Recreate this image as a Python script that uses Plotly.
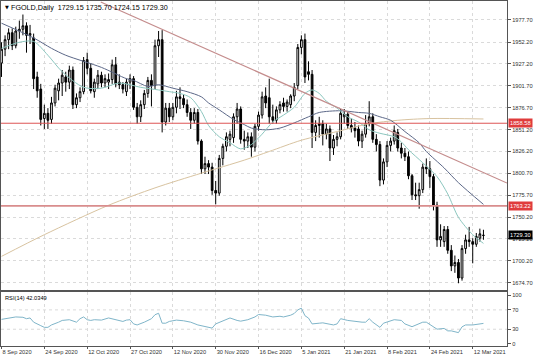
import plotly.graph_objects as go

# ---------------- data ----------------
tick_labels = ["8 Sep 2020", "24 Sep 2020", "12 Oct 2020", "27 Oct 2020", "12 Nov 2020",
               "30 Nov 2020", "16 Dec 2020", "5 Jan 2021", "21 Jan 2021", "8 Feb 2021",
               "24 Feb 2021", "12 Mar 2021"]
tick_bars = [0, 12, 24, 36, 48, 60, 72, 84, 96, 108, 120, 132]

opens = [1928, 1944, 1955, 1963, 1948, 1965, 1967, 1971, 1960, 1957,
         1912, 1898, 1864, 1870, 1863, 1882, 1896, 1905, 1912, 1906,
         1920, 1880, 1888, 1895, 1932, 1922, 1895, 1904, 1914, 1905,
         1906, 1909, 1926, 1906, 1903, 1895, 1906, 1910, 1877, 1866,
         1880, 1893, 1908, 1902, 1948, 1955, 1860, 1876, 1866, 1877,
         1889, 1887, 1880, 1871, 1862, 1871, 1838, 1806, 1812, 1808,
         1781, 1778, 1818, 1832, 1840, 1842, 1866, 1875, 1840, 1838,
         1843, 1831, 1855, 1868, 1890, 1888, 1866, 1862, 1874, 1882,
         1878, 1880, 1890, 1902, 1946, 1955, 1918, 1915, 1848, 1856,
         1858, 1846, 1852, 1830, 1840, 1843, 1866, 1869, 1856, 1853,
         1852, 1838, 1846, 1858, 1866, 1840, 1834, 1793, 1814, 1833,
         1838, 1848, 1830, 1824, 1820, 1798, 1776, 1775, 1782, 1808,
         1806, 1797, 1764, 1724, 1722, 1736, 1712, 1694, 1698, 1680,
         1714, 1724, 1722, 1719, 1726, 1729.15]
highs = [1952, 1960, 1968, 1968, 1970, 1977, 1984, 1975, 1972, 1962,
         1918, 1904, 1880, 1876, 1889, 1903, 1910, 1920, 1918, 1925,
         1924, 1893, 1900, 1935, 1940, 1928, 1910, 1920, 1918, 1915,
         1916, 1932, 1935, 1915, 1906, 1910, 1915, 1913, 1882, 1885,
         1897, 1912, 1915, 1955, 1965, 1966, 1882, 1882, 1882, 1896,
         1900, 1892, 1886, 1876, 1876, 1875, 1840, 1820, 1816, 1813,
         1792, 1822, 1835, 1848, 1850, 1870, 1882, 1878, 1850, 1848,
         1848, 1858, 1872, 1895, 1900, 1910, 1880, 1878, 1884, 1888,
         1886, 1892, 1905, 1950, 1960, 1962, 1930, 1920, 1862, 1866,
         1862, 1858, 1856, 1845, 1848, 1875, 1875, 1872, 1864, 1860,
         1856, 1850, 1868, 1884, 1870, 1846, 1838, 1818, 1838, 1842,
         1856, 1852, 1836, 1830, 1826, 1800, 1790, 1790, 1812, 1818,
         1815, 1800, 1768, 1742, 1740, 1740, 1718, 1706, 1702, 1718,
         1730, 1739, 1726, 1732, 1737, 1735.70]
lows = [1912, 1936, 1944, 1943, 1945, 1956, 1960, 1940, 1950, 1898,
        1888, 1856, 1852, 1852, 1858, 1878, 1885, 1890, 1895, 1898,
        1875, 1876, 1883, 1892, 1915, 1893, 1888, 1898, 1900, 1900,
        1898, 1904, 1900, 1898, 1893, 1890, 1898, 1874, 1858, 1860,
        1875, 1888, 1878, 1898, 1935, 1848, 1856, 1860, 1862, 1870,
        1875, 1876, 1866, 1852, 1858, 1834, 1800, 1800, 1800, 1776,
        1765, 1775, 1810, 1826, 1832, 1836, 1858, 1835, 1828, 1830,
        1820, 1826, 1850, 1864, 1876, 1858, 1858, 1858, 1870, 1872,
        1872, 1876, 1884, 1898, 1938, 1905, 1908, 1830, 1838, 1842,
        1833, 1840, 1815, 1822, 1832, 1840, 1858, 1852, 1848, 1842,
        1832, 1830, 1842, 1855, 1836, 1826, 1786, 1788, 1808, 1826,
        1834, 1826, 1818, 1815, 1794, 1770, 1770, 1760, 1778, 1800,
        1784, 1758, 1716, 1716, 1716, 1708, 1688, 1686, 1674, 1677,
        1708, 1716, 1697, 1716, 1722, 1724.15]
closes = [1944, 1955, 1963, 1948, 1965, 1967, 1971, 1960, 1962, 1910,
          1896, 1863, 1870, 1862, 1882, 1899, 1905, 1914, 1906, 1920,
          1880, 1888, 1895, 1931, 1922, 1896, 1906, 1914, 1905, 1910,
          1909, 1926, 1904, 1903, 1898, 1906, 1910, 1877, 1866, 1880,
          1893, 1908, 1902, 1948, 1955, 1860, 1876, 1866, 1877, 1889,
          1887, 1880, 1871, 1862, 1871, 1838, 1806, 1812, 1808, 1781,
          1778, 1818, 1832, 1843, 1846, 1866, 1875, 1840, 1838, 1843,
          1831, 1855, 1868, 1889, 1882, 1866, 1862, 1874, 1880, 1878,
          1883, 1890, 1900, 1946, 1955, 1912, 1915, 1848, 1856, 1858,
          1846, 1852, 1830, 1840, 1843, 1870, 1869, 1856, 1853, 1850,
          1838, 1846, 1858, 1866, 1840, 1834, 1793, 1814, 1833, 1838,
          1850, 1830, 1824, 1820, 1798, 1776, 1775, 1782, 1808, 1806,
          1797, 1764, 1724, 1728, 1736, 1712, 1694, 1698, 1680, 1714,
          1724, 1722, 1719, 1728, 1731, 1729.30]

# moving averages (bar index, price)
fast_bars = [0, 5, 9, 13, 17, 23, 28, 33, 39, 44, 47, 50, 53, 56, 58, 61, 64, 67, 70, 73,
             76, 79, 82, 85, 87, 89, 91, 94, 97, 100, 103, 106, 110, 112, 114, 118, 122,
             125, 128, 132, 135]
fast_vals = [1945, 1952, 1953, 1937, 1918, 1900, 1899, 1905, 1900, 1897, 1895, 1893, 1888,
             1872, 1856, 1843, 1836, 1829, 1834, 1846, 1860, 1868, 1877, 1893, 1897, 1893,
             1884, 1876, 1866, 1860, 1851, 1847, 1843, 1837, 1828, 1813, 1797, 1777, 1750,
             1730, 1720]
slow_bars = [0, 9, 14, 18, 28, 35, 37, 41, 44, 48, 52, 56, 58, 61, 65, 68, 70, 74, 78, 82,
             86, 89, 95, 100, 103, 106, 109, 113, 117, 119, 124, 128, 135]
slow_vals = [1974, 1957, 1945, 1937, 1923, 1910, 1908, 1901, 1903, 1899, 1895, 1889, 1882,
             1874, 1863, 1857, 1853, 1851, 1853, 1859, 1866, 1871, 1873, 1871, 1870, 1866,
             1862, 1849, 1836, 1826, 1807, 1790, 1765]
long_bars = [0, 12, 30, 43, 56, 68, 75, 84, 94, 103, 111, 120, 135]
long_vals = [1705, 1730, 1764, 1784, 1801, 1816, 1826, 1839, 1849, 1858, 1862, 1864, 1863.5]

# horizontal levels and trend line
levels = [1858.58, 1763.22]
trend_bars = [27.8, 141.6]
trend_vals = [1998.5, 1789.6]
last_price = 1729.30

price_ticks = [1674.70, 1700.20, 1725.20, 1750.20, 1775.70, 1800.70, 1826.20, 1851.20,
               1876.70, 1901.70, 1927.20, 1952.20, 1977.70]
rsi_ticks = [0, 30, 70, 100]

rsi_bars = [0, 2, 4, 6, 7, 8, 9, 11, 12, 13, 14, 16, 17, 19, 20, 21, 22, 23, 24, 25, 26, 28,
            30, 31, 33, 34, 35, 36, 37, 38, 40, 42, 43, 44, 45, 46, 47, 49, 51, 53, 55, 57,
            58, 59, 60, 62, 64, 66, 67, 69, 71, 72, 74, 76, 78, 79, 81, 82, 83, 84, 85, 86,
            87, 89, 90, 92, 93, 94, 95, 97, 99, 101, 102, 103, 104, 106, 107, 109, 110, 112,
            113, 115, 116, 118, 119, 121, 122, 124, 125, 126, 128, 129, 130, 132, 134, 135]
rsi_vals = [50.4, 53.3, 55.4, 54.7, 51.8, 53.3, 44.6, 37.4, 33.9, 33.9, 38.9, 44.6, 48.2,
            49.7, 46.7, 44.6, 51.8, 55.4, 49.7, 48.2, 49.7, 48.9, 53.3, 51.8, 48.2, 46.1,
            48.9, 49.7, 41.0, 38.9, 44.6, 51.8, 60.0, 63.0, 42.5, 42.5, 46.1, 48.9, 47.5,
            44.6, 38.9, 36.0, 35.3, 32.4, 41.0, 46.7, 53.3, 48.2, 46.7, 49.7, 55.4, 60.4,
            59.0, 55.4, 56.8, 55.4, 59.0, 62.6, 70.0, 73.5, 58.0, 53.0, 41.0, 42.5, 43.2,
            40.3, 38.9, 41.0, 51.8, 48.2, 46.1, 44.6, 44.6, 51.8, 44.6, 33.9, 42.5, 48.2,
            49.7, 48.2, 41.0, 35.3, 38.9, 44.6, 44.6, 36.0, 30.2, 31.6, 26.6, 26.6, 23.0,
            35.0, 38.9, 38.9, 41.0, 42.03]
rsi_last = 42.0349

# ---------------- figure ----------------
FONT = "Liberation Sans, Arial, sans-serif"
GRID = "#dadada"
FRAME = "#555555"
bars = list(range(len(closes)))
x_range = [-0.14, 141.6]

fig = go.Figure()

fig.add_trace(go.Scatter(x=long_bars, y=long_vals, mode="lines",
                         line=dict(color="#d8c3a0", width=1, shape="spline", smoothing=0.8),
                         hoverinfo="skip", showlegend=False))

fig.add_trace(go.Candlestick(
    x=bars, open=opens, high=highs, low=lows, close=closes,
    increasing=dict(line=dict(color="#000000", width=1), fillcolor="#ffffff"),
    decreasing=dict(line=dict(color="#000000", width=1), fillcolor="#000000"),
    whiskerwidth=0, hoverinfo="skip", showlegend=False))

fig.add_trace(go.Scatter(x=slow_bars, y=slow_vals, mode="lines",
                         line=dict(color="#5c6888", width=1, shape="spline", smoothing=0.8),
                         hoverinfo="skip", showlegend=False))
fig.add_trace(go.Scatter(x=fast_bars, y=fast_vals, mode="lines",
                         line=dict(color="#8cc7bf", width=1, shape="spline", smoothing=0.8),
                         hoverinfo="skip", showlegend=False))
fig.add_trace(go.Scatter(x=trend_bars, y=trend_vals, mode="lines",
                         line=dict(color="#c48c8c", width=1.2),
                         hoverinfo="skip", showlegend=False))

fig.add_trace(go.Scatter(x=rsi_bars, y=rsi_vals, mode="lines", xaxis="x2", yaxis="y2",
                         line=dict(color="#7fb5c9", width=1),
                         hoverinfo="skip", showlegend=False))

level_styles = [("#dd5555", 1.0), ("#d98d8d", 1.6)]
for lv, (col, w) in zip(levels, level_styles):
    fig.add_shape(type="line", xref="x domain", yref="y", x0=0, x1=1, y0=lv, y1=lv,
                  line=dict(color=col, width=w), layer="above")

for lv in [30, 70]:
    fig.add_shape(type="line", xref="x2 domain", yref="y2", x0=0, x1=1, y0=lv, y1=lv,
                  line=dict(color=GRID, width=1, dash="dot"), layer="below")

annotations = []
for lv, bg in [(levels[0], "#e03c3c"), (levels[1], "#e03c3c"), (last_price, "#000000")]:
    annotations.append(dict(xref="paper", yref="y", x=1, y=lv, xanchor="left", yanchor="middle",
                            xshift=1, text=f"{lv:.2f}", showarrow=False, bgcolor=bg,
                            borderpad=1, font=dict(family=FONT, size=5.7, color="#ffffff")))
annotations.append(dict(xref="paper", yref="paper", x=0, y=1, xanchor="left", yanchor="top",
                        xshift=2, yshift=-1, text="▼", showarrow=False,
                        font=dict(family="DejaVu Sans", size=5, color="#000000")))
annotations.append(dict(xref="paper", yref="paper", x=0, y=1, xanchor="left", yanchor="top",
                        xshift=8, yshift=0,
                        text=f"FGOLD,Daily  {opens[-1]:.2f} {highs[-1]:.2f} {lows[-1]:.2f} {closes[-1]:.2f}",
                        showarrow=False, font=dict(family=FONT, size=7.2, color="#000000")))
annotations.append(dict(xref="paper", yref="paper", x=0, y=0.1565, xanchor="left", yanchor="top",
                        xshift=2, yshift=-1, text=f"RSI(14) {rsi_last:.4f}", showarrow=False,
                        font=dict(family=FONT, size=5.7, color="#000000")))

axis_common = dict(showline=True, mirror=True, linecolor=FRAME, linewidth=1, zeroline=False)

fig.update_layout(
    width=536, height=357,
    margin=dict(l=1, r=29, t=1, b=11),
    paper_bgcolor="#ffffff", plot_bgcolor="#ffffff",
    showlegend=False,
    xaxis=dict(domain=[0, 1], anchor="y", range=x_range, tickvals=tick_bars,
               showticklabels=False, ticks="", showgrid=True, gridcolor=GRID, griddash="dot",
               rangeslider=dict(visible=False), **axis_common),
    yaxis=dict(domain=[0.1623, 1], anchor="x", side="right", range=[1666.2, 1999.6],
               tickvals=price_ticks, ticktext=[f"{v:.2f}" for v in price_ticks],
               tickfont=dict(family=FONT, size=5.7, color="#333333"),
               ticks="outside", ticklen=3, tickcolor=FRAME, ticklabeloverflow="allow",
               showgrid=True, gridcolor=GRID, griddash="dot", **axis_common),
    xaxis2=dict(domain=[0, 1], anchor="y2", range=x_range, tickvals=tick_bars,
                ticktext=tick_labels, ticklabelposition="outside right",
                ticklabeloverflow="allow",
                tickfont=dict(family=FONT, size=5.7, color="#333333"),
                ticks="outside", ticklen=2, tickcolor=FRAME,
                showgrid=True, gridcolor=GRID, griddash="dot", **axis_common),
    yaxis2=dict(domain=[0, 0.1565], anchor="x2", side="right", range=[-4.6, 106.9],
                tickvals=rsi_ticks, ticktext=[str(v) for v in rsi_ticks],
                tickfont=dict(family=FONT, size=5.7, color="#333333"),
                ticks="outside", ticklen=3, tickcolor=FRAME, ticklabeloverflow="allow",
                showgrid=False, **axis_common),
    annotations=annotations,
)

fig.write_html("out.html", config={"displayModeBar": False, "staticPlot": True},
               post_script="document.body.style.margin='0px';document.body.style.overflow='hidden';")
